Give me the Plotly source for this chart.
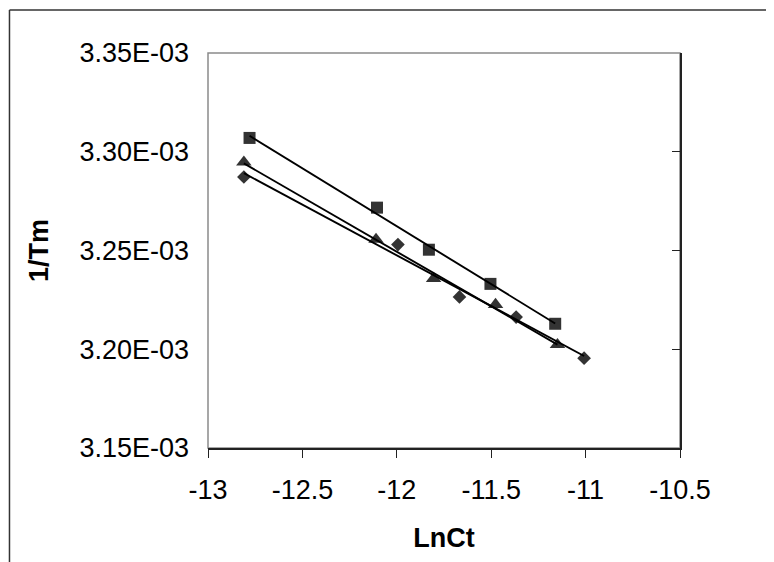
import numpy as np
import plotly.graph_objects as go

# ---- data ----
x_diamond = [-12.81, -11.994, -11.668, -11.368, -11.008]
y_diamond = [3.2872e-3, 3.2530e-3, 3.2265e-3, 3.2163e-3, 3.1955e-3]

x_square = [-12.78, -12.105, -11.83, -11.504, -11.161]
y_square = [3.3070e-3, 3.2717e-3, 3.2504e-3, 3.2331e-3, 3.2129e-3]

x_triangle = [-12.81, -12.11, -11.805, -11.477, -11.149]
y_triangle = [3.2947e-3, 3.2556e-3, 3.2358e-3, 3.2226e-3, 3.2023e-3]

y_tickvals = [3.15e-3, 3.20e-3, 3.25e-3, 3.30e-3, 3.35e-3]
y_ticktext = ["3.15E-03", "3.20E-03", "3.25E-03", "3.30E-03", "3.35E-03"]
x_tickvals = [-13, -12.5, -12, -11.5, -11, -10.5]
x_ticktext = ["-13", "-12.5", "-12", "-11.5", "-11", "-10.5"]

FONT = "Liberation Sans, Arial, sans-serif"
MARK = "#333333"

fig = go.Figure()

series = [
    (x_diamond, y_diamond, "diamond", 10.5),
    (x_square, y_square, "square", 12),
    (x_triangle, y_triangle, "triangle-up", 13.5),
]

for xs, ys, sym, sz in series:
    fig.add_trace(go.Scatter(
        x=xs, y=ys, mode="markers",
        marker=dict(symbol=sym, size=sz, color=MARK, line=dict(width=0)),
        showlegend=False, hoverinfo="x+y"))

# linear trendlines fitted from the series
for i, (xs, ys, sym, sz) in enumerate(series):
    a, b = np.polyfit(xs, ys, 1)
    xl = [min(xs), max(xs)]
    yl = [a * v + b for v in xl]
    fig.add_trace(go.Scatter(
        x=xl, y=yl, mode="lines",
        line=dict(color="black", width=1.9),
        showlegend=False, hoverinfo="skip",
        yaxis="y2" if i == 0 else "y"))

yr = [3.15e-3, 3.35e-3]

fig.update_layout(
    width=766, height=554,
    margin=dict(l=199.5, r=94, t=45, b=114),
    paper_bgcolor="white",
    plot_bgcolor="rgba(0,0,0,0)",
    font=dict(family=FONT, size=27, color="black"),
    xaxis=dict(
        range=[-13, -10.5], tickvals=x_tickvals, ticktext=x_ticktext,
        showgrid=False, zeroline=False,
        showline=True, linecolor="#222222", linewidth=1.5,
        ticks="outside", ticklen=8, tickwidth=1.2, tickcolor="#222222",
        tickfont=dict(size=27, family=FONT),
        ticklabelstandoff=9,
        title=dict(text="<b>LnCt</b>", font=dict(size=27, family=FONT), standoff=24),
        automargin=False,
    ),
    yaxis=dict(
        range=yr, tickvals=y_tickvals, ticktext=y_ticktext,
        showgrid=False, zeroline=False, showline=False,
        ticks="", tickfont=dict(size=27, family=FONT),
        ticklabelstandoff=18,
        title=dict(text="<b>1/Tm</b>", font=dict(size=27, family=FONT), standoff=22),
        automargin=False,
    ),
    yaxis2=dict(
        range=yr, tickvals=y_tickvals, overlaying="y", side="right",
        showgrid=False, zeroline=False, showticklabels=False,
        showline=True, linecolor="#222222", linewidth=1.5,
        ticks="inside", ticklen=8, tickwidth=1.2, tickcolor="#222222",
        automargin=False,
    ),
    shapes=[
        # plot-area border (grey)
        dict(type="rect", xref="x domain", yref="y domain", x0=0, x1=1, y0=0, y1=1,
             line=dict(color="#8a8a8a", width=1.5), layer="below"),
        # outer chart frame (left & top edges visible)
        dict(type="line", xref="paper", yref="paper", x0=-0.4206, x1=-0.4206, y0=-0.5, y1=1.1089,
             line=dict(color="#333333", width=1.5)),
        dict(type="line", xref="paper", yref="paper", x0=-0.4206, x1=1.5, y0=1.1089, y1=1.1089,
             line=dict(color="#333333", width=1.5)),
    ],
)

fig.write_html("out.html")
